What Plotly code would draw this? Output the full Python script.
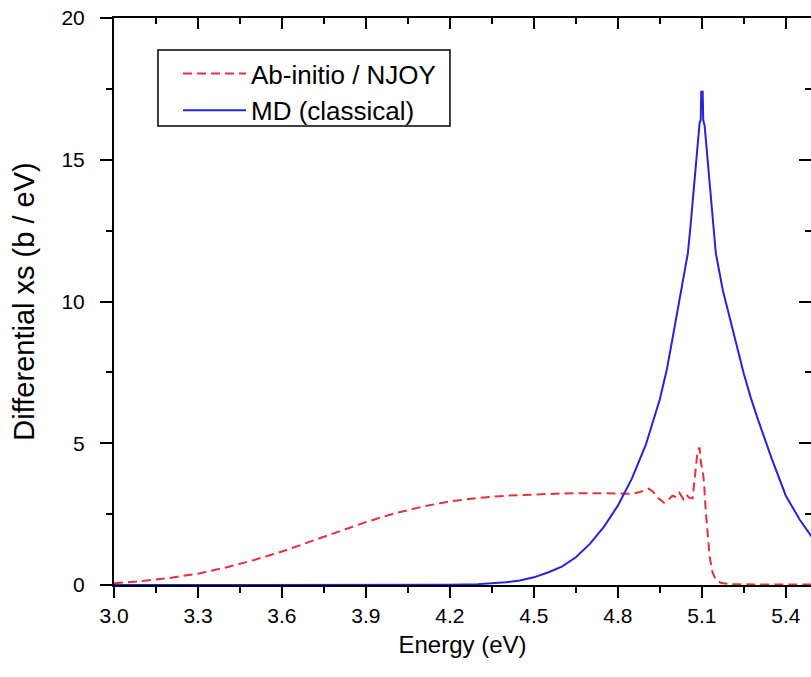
import plotly.graph_objects as go

# Ab-initio / NJOY (red dashed)
red_E = [3.00, 3.10, 3.20, 3.30, 3.40, 3.50, 3.60, 3.70, 3.80, 3.90, 4.00, 4.10, 4.20,
         4.30, 4.40, 4.50, 4.60, 4.70, 4.80, 4.85, 4.88, 4.91, 4.925, 4.94, 4.965, 4.98,
         4.995, 5.01, 5.02, 5.035, 5.045, 5.055, 5.067, 5.075, 5.085, 5.092, 5.097,
         5.103, 5.108, 5.114, 5.12, 5.128, 5.138, 5.15, 5.17, 5.20, 5.30, 5.50]
red_v = [0.06, 0.14, 0.25, 0.40, 0.62, 0.88, 1.18, 1.52, 1.88, 2.22, 2.52, 2.76, 2.95,
         3.07, 3.15, 3.20, 3.23, 3.24, 3.22, 3.22, 3.28, 3.40, 3.30, 3.10, 2.90, 3.00,
         3.15, 3.10, 3.25, 3.02, 3.18, 3.08, 3.06, 3.80, 4.75, 4.85, 4.30,
         4.05, 3.60, 2.60, 1.80, 1.00, 0.45, 0.18, 0.07, 0.03, 0.02, 0.02]

# MD (classical) (blue solid)
blue_E = [3.00, 4.00, 4.20, 4.30, 4.35, 4.40, 4.45, 4.50, 4.55, 4.60, 4.65, 4.70, 4.75,
          4.80, 4.85, 4.90, 4.95, 4.975, 5.00, 5.015, 5.03, 5.04, 5.05, 5.06, 5.07,
          5.078, 5.085, 5.092, 5.096, 5.098, 5.103, 5.105, 5.11, 5.12, 5.13, 5.14,
          5.15, 5.175, 5.20, 5.225, 5.25, 5.275, 5.30, 5.35, 5.40, 5.45, 5.50]
blue_v = [0.0, 0.0, 0.01, 0.03, 0.06, 0.10, 0.16, 0.27, 0.44, 0.65, 0.98, 1.45, 2.05,
          2.80, 3.75, 4.95, 6.55, 7.60, 8.95, 9.80, 10.5, 11.1, 11.7, 12.7, 13.8,
          14.8, 15.7, 16.3, 16.4, 17.4, 17.4, 16.4, 16.2, 15.0, 13.8, 12.7,
          11.7, 10.4, 9.4, 8.35, 7.45, 6.6, 5.85, 4.45, 3.15, 2.3, 1.6]

x_ticks = [3.0, 3.3, 3.6, 3.9, 4.2, 4.5, 4.8, 5.1, 5.4]
y_ticks = [0, 5, 10, 15, 20]

FONT = "Liberation Sans, Arial, sans-serif"
RED = "#e8303c"
BLUE = "#2424d8"

fig = go.Figure()
fig.add_trace(go.Scatter(x=red_E, y=red_v, mode="lines", name="Ab-initio / NJOY",
                         line=dict(color=RED, width=2, dash="9px,5px")))
fig.add_trace(go.Scatter(x=blue_E, y=blue_v, mode="lines", name="MD (classical)",
                         line=dict(color=BLUE, width=2)))
# invisible trace to anchor mirrored (top/right) axes
fig.add_trace(go.Scatter(x=blue_E, y=blue_v, mode="lines", xaxis="x2", yaxis="y2",
                         opacity=0, showlegend=False, hoverinfo="skip"))

xr = [3.0, 5.49]
yr = [0, 20]

fig.update_layout(
    width=811, height=677,
    margin=dict(l=114, r=0, t=18, b=92),
    paper_bgcolor="white", plot_bgcolor="white",
    font=dict(family=FONT, color="black"),
    showlegend=True,
    legend=dict(x=0.0918, y=0.9436, xanchor="left", yanchor="top",
                bgcolor="rgba(0,0,0,0)", borderwidth=0,
                font=dict(size=26, family=FONT), itemwidth=63,
                tracegroupgap=0),
    shapes=[dict(type="rect", xref="paper", yref="paper",
                 x0=0.0631, x1=0.482, y0=0.8095, y1=0.9436,
                 line=dict(color="black", width=1.5), fillcolor="rgba(0,0,0,0)",
                 layer="above")],
    xaxis=dict(range=xr, tickvals=x_ticks, ticktext=[f"{v:.1f}" for v in x_ticks],
               showgrid=False, zeroline=False, showline=True, linecolor="black",
               linewidth=2, ticks="outside", ticklen=11, tickwidth=2, tickcolor="black",
               minor=dict(dtick=0.15, tick0=3.0, ticks="outside", ticklen=6,
                          tickwidth=2, tickcolor="black", showgrid=False),
               tickfont=dict(size=21, family=FONT),
               title=dict(text="Energy (eV)", font=dict(size=24, family=FONT), standoff=10)),
    yaxis=dict(range=yr, tickvals=y_ticks, showgrid=False, zeroline=False, showline=True,
               linecolor="black", linewidth=2, ticks="outside", ticklen=12, tickwidth=2,
               tickcolor="black",
               minor=dict(dtick=2.5, tick0=0, ticks="outside", ticklen=6,
                          tickwidth=2, tickcolor="black", showgrid=False),
               tickfont=dict(size=21, family=FONT), ticklabelstandoff=11,
               title=dict(text="Differential xs (b / eV)", font=dict(size=29, family=FONT),
                          standoff=18)),
    xaxis2=dict(range=xr, overlaying="x", side="top", matches="x", tickvals=x_ticks,
                showticklabels=False, showgrid=False, zeroline=False, showline=True,
                linecolor="black", linewidth=2, ticks="inside", ticklen=11, tickwidth=2,
                tickcolor="black",
                minor=dict(dtick=0.15, tick0=3.0, ticks="inside", ticklen=6,
                           tickwidth=2, tickcolor="black", showgrid=False)),
    yaxis2=dict(range=yr, overlaying="y", side="right", matches="y", tickvals=y_ticks,
                showticklabels=False, showgrid=False, zeroline=False, showline=False,
                ticks="inside", ticklen=12, tickwidth=2, tickcolor="black",
                minor=dict(dtick=2.5, tick0=0, ticks="inside", ticklen=6,
                           tickwidth=2, tickcolor="black", showgrid=False)),
)

fig.write_html("out.html")
